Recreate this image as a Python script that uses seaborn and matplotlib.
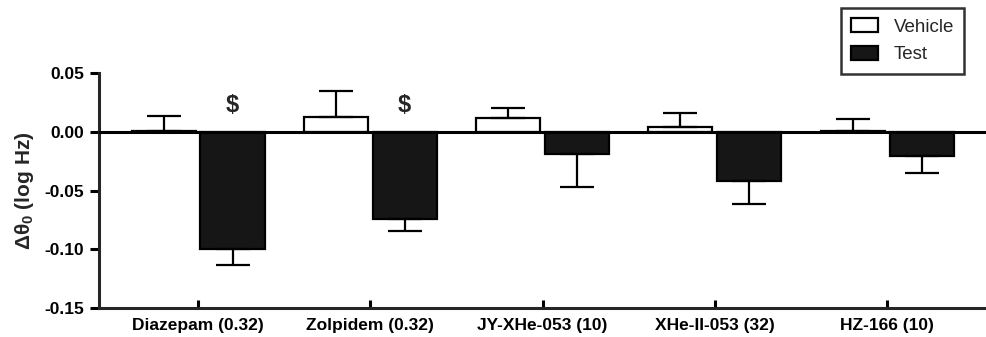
import matplotlib
matplotlib.use('Agg')
import matplotlib.pyplot as plt
import seaborn as sns
import pandas as pd
import numpy as np

# valores
compounds = ['Diazepam (0.32)', 'Zolpidem (0.32)', 'JY-XHe-053 (10)',
             'XHe-II-053 (32)', 'HZ-166 (10)']
vehicle_mean = [0.001, 0.013, 0.0116, 0.0043, 0.0005]
vehicle_sem = [0.0125, 0.022, 0.0088, 0.012, 0.0105]
test_mean = [-0.0998, -0.0743, -0.0187, -0.0414, -0.0204]
test_sem = [0.0134, 0.0100, 0.0283, 0.0196, 0.0147]
significance = ['$', '$', '', '', '']
groups = ['Vehicle', 'Test']
colors = {'Vehicle': 'white', 'Test': '#161616'}

sns.set_theme(style='ticks')
plt.rcParams['font.family'] = ['Liberation Sans', 'DejaVu Sans']
plt.rcParams['mathtext.fontset'] = 'custom'
plt.rcParams['mathtext.rm'] = 'Liberation Sans:bold'
plt.rcParams['mathtext.bf'] = 'Liberation Sans:bold'
plt.rcParams['mathtext.default'] = 'rm'

df = pd.DataFrame({
    'compound': compounds * 2,
    'group': ['Vehicle'] * len(compounds) + ['Test'] * len(compounds),
    'value': vehicle_mean + test_mean,
})
errors = {'Vehicle': vehicle_sem, 'Test': test_sem}

fig = plt.figure(figsize=(9.87, 3.37), dpi=100)
ax = fig.add_axes([99 / 987, 1 - 308 / 337, 1 - 99 / 987, (308 - 73.3) / 337])

sns.barplot(data=df, x='compound', y='value', hue='group', order=compounds,
            hue_order=groups, palette=colors, edgecolor='black', linewidth=1.6,
            width=0.8, gap=0.07, errorbar=None, ax=ax)

ax.axhline(0, color='black', lw=2.2, zorder=5)

# barras de error de un solo lado (alejandose de cero)
for cont, g in zip(ax.containers, groups):
    for bar, err in zip(cont, errors[g]):
        xc = bar.get_x() + bar.get_width() / 2
        h = bar.get_height()
        yerr = [[0], [err]] if h >= 0 else [[err], [0]]
        ax.errorbar([xc], [h], yerr=yerr, fmt='none', ecolor='black',
                    elinewidth=1.6, capsize=12, capthick=1.6, zorder=4)

for bar, s in zip(ax.containers[1], significance):
    if s:
        ax.text(bar.get_x() + bar.get_width() / 2, 0.0225, s, ha='center',
                va='center', fontsize=17, fontweight='bold')

ax.set_xlim(-0.575, 4.58)
ax.set_ylim(-0.15, 0.05)
ax.set_yticks([-0.15, -0.10, -0.05, 0.00, 0.05])
ax.set_yticklabels([f'{v:.2f}' for v in [-0.15, -0.10, -0.05, 0.00, 0.05]])
ax.set_xlabel('')
ax.set_ylabel(r'Δθ$_0$ (log Hz)', fontsize=15, fontweight='bold', labelpad=6)

for s in ['top', 'right']:
    ax.spines[s].set_visible(False)
for s in ['left', 'bottom']:
    ax.spines[s].set_linewidth(2.2)
ax.tick_params(axis='x', direction='in', length=6, width=2.2, pad=7,
               labelsize=12.5, colors='black')
ax.tick_params(axis='y', direction='out', length=6.5, width=2.2, pad=4,
               labelsize=12.5, colors='black')
plt.setp(ax.get_xticklabels(), fontweight='bold')
plt.setp(ax.get_yticklabels(), fontweight='bold')

handles, labels = ax.get_legend_handles_labels()
ax.get_legend().remove()
leg = fig.legend(handles, labels, loc='upper left',
                 bbox_to_anchor=(841 / 987, 1 - 8 / 337), fontsize=13.5,
                 frameon=True, fancybox=False, edgecolor='black',
                 handlelength=1.45, handleheight=0.75, handletextpad=0.8,
                 borderpad=0.55, labelspacing=0.55, borderaxespad=0)
leg.get_frame().set_linewidth(1.8)

fig.savefig('out.png', dpi=100)
